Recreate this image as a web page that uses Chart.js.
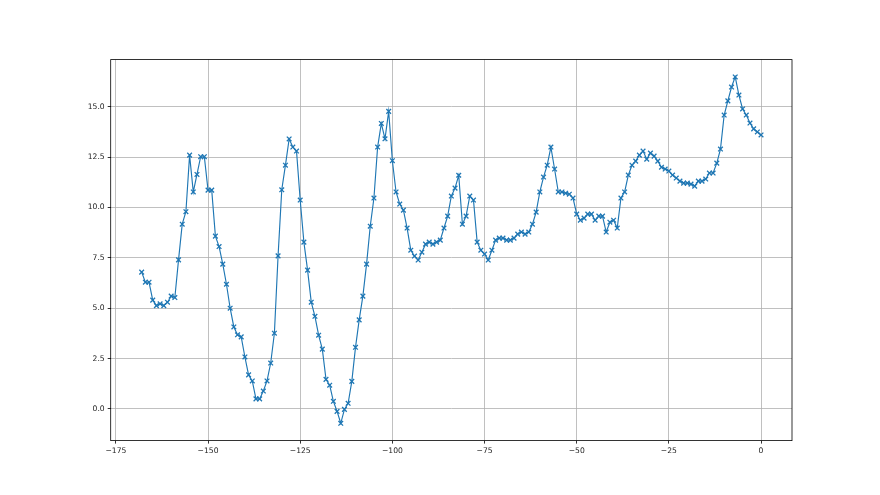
<!DOCTYPE html>
<html>
<head>
<meta charset="utf-8">
<script src="https://cdn.jsdelivr.net/npm/chart.js@4.4.1/dist/chart.umd.min.js"></script>
<style>
    html, body { margin: 0; padding: 0; background: #fff; }
    #wrap { width: 880px; height: 495px; }
</style>
</head>
<body>
<div id="wrap"><canvas id="chart" width="880" height="495"></canvas></div>
<script>
// x runs from -168 to 0 in steps of 1
const firstX = -168;

// values, left to right
const values = [
    6.79, 6.29, 6.29, 5.40, 5.13, 5.22, 5.13, 5.30, 5.60, 5.53, 7.40, 9.17, 9.79, 12.60, 10.77, 11.64, 12.52, 12.52, 10.86, 10.86, 8.58, 8.06, 7.19, 6.19, 5.00,
    4.07, 3.68, 3.58, 2.58, 1.69, 1.39, 0.50, 0.50, 0.89, 1.39, 2.28, 3.76, 7.60, 10.88, 12.10, 13.40, 13.00, 12.80,
    10.37, 8.28, 6.89, 5.30, 4.60, 3.66, 2.97, 1.47, 1.18, 0.38, -0.12, -0.71, -0.02, 0.28, 1.37, 3.06, 4.42, 5.60, 7.19, 9.07, 10.47, 13.00, 14.17, 13.41, 14.77, 12.32, 10.77, 10.17,
    9.87, 8.98, 7.88, 7.59, 7.39, 7.78, 8.18, 8.28, 8.18, 8.28, 8.38, 8.98, 9.57, 10.57, 10.96, 11.60, 9.17, 9.57, 10.57, 10.37, 8.28, 7.88,
    7.69, 7.39, 7.88, 8.38, 8.48, 8.48, 8.38, 8.38, 8.48, 8.68, 8.78, 8.68, 8.78, 9.17, 9.77, 10.77, 11.51, 12.10, 13.00, 11.91, 10.77, 10.77, 10.71, 10.66, 10.47, 9.67, 9.37,
    9.47, 9.67, 9.67, 9.37, 9.57, 9.57, 8.78, 9.27, 9.37, 8.98, 10.47, 10.77, 11.61, 12.10, 12.30, 12.60, 12.80, 12.40, 12.70, 12.55, 12.30, 12.00, 11.91, 11.81, 11.61, 11.46, 11.31,
    11.21, 11.21, 11.16, 11.06, 11.31, 11.31, 11.41, 11.71, 11.71, 12.20, 12.90, 14.59, 15.29, 15.98, 16.48, 15.58, 14.89, 14.59, 14.19, 13.90, 13.75, 13.60
];

const xTicks = [-175, -150, -125, -100, -75, -50, -25, 0];
const yTicks = [0, 2.5, 5, 7.5, 10, 12.5, 15];

const points = values.map((v, i) => ({ x: firstX + i, y: v }));

const tickFont = { family: 'DejaVu Sans', size: 7.6 };

// matplotlib style box around the axes
const frame = {
    id: 'frame',
    afterDraw: (chart) => {
        const { ctx, chartArea: a } = chart;
        ctx.save();
        ctx.strokeStyle = '#000';
        ctx.lineWidth = 0.8;
        ctx.strokeRect(a.left, a.top, a.right - a.left, a.bottom - a.top);
        ctx.restore();
    }
};

new Chart(document.getElementById('chart').getContext('2d'), {
    type: 'line',
    data: {
        datasets: [{
            data: points,
            borderColor: '#1f77b4',
            borderWidth: 1.15,
            pointStyle: 'crossRot',
            pointRadius: 3.3,
            pointBorderWidth: 1.3,
            pointBorderColor: '#1f77b4',
            pointBackgroundColor: '#1f77b4',
            tension: 0,
            fill: false
        }]
    },
    options: {
        responsive: false,
        animation: false,
        devicePixelRatio: 1,
        layout: { padding: { left: 0, right: 88, top: 59.6, bottom: 0 } },
        plugins: {
            legend: { display: false },
            tooltip: { enabled: false }
        },
        scales: {
            x: {
                type: 'linear',
                min: -176.4,
                max: 8.4,
                afterFit: (s) => { s.height = 54.4; },
                afterBuildTicks: (s) => { s.ticks = xTicks.map(v => ({ value: v })); },
                border: { display: false },
                grid: { color: '#b0b0b0', lineWidth: 0.8, tickColor: '#000', tickLength: 3 },
                ticks: {
                    color: '#222',
                    font: tickFont,
                    padding: 3,
                    maxRotation: 0,
                    callback: (v) => String(v).replace('-', '\u2212')
                }
            },
            y: {
                type: 'linear',
                min: -1.57,
                max: 17.34,
                afterFit: (s) => { s.width = 110.7; },
                afterBuildTicks: (s) => { s.ticks = yTicks.map(v => ({ value: v })); },
                border: { display: false },
                grid: { color: '#b0b0b0', lineWidth: 0.8, tickColor: '#000', tickLength: 3 },
                ticks: {
                    color: '#222',
                    font: tickFont,
                    padding: 3,
                    callback: (v) => v.toFixed(1)
                }
            }
        }
    },
    plugins: [frame]
});
</script>
</body>
</html>
